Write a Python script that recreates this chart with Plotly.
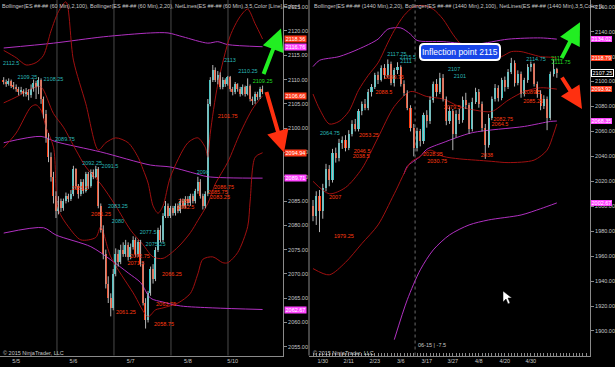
import plotly.graph_objects as go

# ---------------- LEFT PANEL : ES 60 min ----------------
L_OPEN = [2109.75,2109.5,2109.0,2109.75,2108.75,2108.5,2108.0,2107.5,2107.75,2107.0,2107.5,2106.75,2108.0,2109.25,2108.5,
          2110.0,2106.0,2103.0,2098.0,2094.0,2090.0,2086.0,2083.0,2085.0,2083.5,2085.0,2086.0,2085.5,2086.5,2091.5,
          2088.0,2086.5,2089.0,2087.0,2090.5,2088.0,2091.0,2090.0,2091.5,2084.0,2079.0,2074.0,2068.0,2065.0,2063.0,
          2070.0,2074.0,2072.5,2075.0,2074.0,2076.0,2073.5,2075.5,2077.0,2074.0,2076.5,2072.0,2064.0,2060.5,2066.0,
          2071.0,2069.0,2075.0,2079.0,2077.0,2082.0,2084.0,2082.0,2083.5,2082.5,2084.0,2083.0,2085.0,2084.0,2085.5,
          2084.5,2086.0,2085.0,2087.0,2089.0,2086.0,2084.0,2086.5,2105.0,2110.0,2112.0,2110.0,2111.0,2108.5,2110.0,
          2109.0,2110.5,2108.0,2107.5,2109.0,2108.0,2107.0,2108.5,2107.0,2108.75,2106.0,2105.5,2107.0,2106.5,2108.0]
L_HIGH = [2110.5,2110.0,2110.25,2110.0,2109.5,2109.0,2108.5,2108.5,2108.0,2108.25,2108.0,2109.0,2110.0,2109.75,2110.5,
          2110.25,2106.5,2103.75,2099.0,2095.0,2091.0,2087.0,2086.0,2085.5,2085.5,2086.75,2086.5,2087.25,2092.25,2091.75,
          2088.5,2089.5,2089.5,2091.0,2091.0,2091.5,2091.5,2092.25,2092.0,2084.5,2080.0,2075.0,2069.5,2066.0,2071.0,
          2075.25,2075.0,2076.0,2076.5,2077.0,2076.5,2076.25,2077.75,2077.5,2077.0,2077.0,2072.5,2065.0,2066.5,2071.5,
          2072.0,2075.5,2079.5,2080.0,2082.5,2085.0,2084.5,2084.0,2084.0,2084.5,2084.5,2085.5,2085.5,2086.0,2086.0,
          2086.5,2086.5,2087.5,2090.0,2089.5,2086.5,2087.0,2106.0,2110.5,2113.0,2112.5,2111.75,2111.5,2110.5,2110.25,
          2110.75,2110.75,2108.5,2109.5,2109.25,2108.5,2109.0,2108.75,2110.25,2109.0,2106.5,2107.5,2107.5,2108.5,2108.75]
L_LOW = [2109.0,2108.5,2108.75,2108.25,2108.0,2107.5,2106.75,2107.0,2106.5,2106.5,2105.75,2106.25,2107.5,2106.0,2107.0,
         2105.0,2102.0,2097.0,2093.0,2089.0,2084.5,2081.5,2082.25,2082.75,2083.0,2084.5,2084.75,2085.0,2086.0,2087.5,
         2085.5,2086.0,2086.5,2086.75,2087.5,2087.75,2089.5,2089.75,2083.5,2078.5,2073.0,2067.0,2064.0,2061.25,2062.5,
         2069.5,2071.5,2072.0,2073.5,2073.5,2072.75,2073.0,2075.0,2073.5,2073.5,2071.5,2063.5,2058.75,2060.0,2065.5,
         2068.0,2068.5,2074.5,2076.5,2076.5,2081.5,2081.5,2081.5,2082.0,2082.0,2082.5,2082.5,2083.5,2083.5,2084.0,
         2084.0,2084.5,2084.5,2086.5,2085.5,2083.25,2083.5,2086.0,2104.5,2109.5,2109.5,2109.0,2108.0,2108.0,2108.5,
         2108.75,2107.5,2106.75,2107.0,2107.5,2106.5,2106.75,2106.5,2106.75,2105.5,2104.75,2105.0,2105.75,2106.0,2107.0]
L_CLOSE = [2109.5,2109.0,2109.75,2108.75,2108.5,2108.0,2107.5,2107.75,2107.0,2107.5,2106.75,2108.0,2109.25,2108.5,2110.0,
           2106.0,2103.0,2098.0,2094.0,2090.0,2086.0,2083.0,2085.0,2083.5,2085.0,2086.0,2085.5,2086.5,2091.5,2088.0,
           2086.5,2089.0,2087.0,2090.5,2088.0,2091.0,2090.0,2091.5,2084.0,2079.0,2074.0,2068.0,2065.0,2063.0,2070.0,
           2074.0,2072.5,2075.0,2074.0,2076.0,2073.5,2075.5,2077.0,2074.0,2076.5,2072.0,2064.0,2060.5,2066.0,2071.0,
           2069.0,2075.0,2079.0,2077.0,2082.0,2084.0,2082.0,2083.5,2082.5,2084.0,2083.0,2085.0,2084.0,2085.5,2084.5,
           2086.0,2085.0,2087.0,2089.0,2086.0,2084.0,2086.5,2105.0,2110.0,2112.0,2110.0,2111.0,2108.5,2110.0,2109.0,
           2110.5,2108.0,2107.5,2109.0,2108.0,2107.0,2108.5,2107.0,2108.75,2106.0,2105.5,2107.0,2106.5,2108.0,2107.5]

# Bollinger(20) bands (bar index, price)
L_BB20_UP_X = [0, 5, 9, 13, 16, 19, 22, 25, 28, 33, 38, 41, 45, 50, 54, 56, 58, 60, 62, 64, 67, 74, 78, 81, 82, 83, 86, 91, 95, 98, 101, 104]
L_BB20_UP_Y = [2116, 2114.5, 2113, 2113.5, 2115, 2120, 2124, 2126, 2114, 2105, 2095.5, 2097, 2098, 2097, 2094, 2091.5, 2088.7,
               2084, 2082.5, 2084, 2090, 2097, 2098, 2096, 2094, 2099, 2109, 2119, 2123, 2124.5, 2121.5, 2118.36]
L_BB20_MID_X = [0, 5, 12, 15, 20, 24, 29, 33, 39, 45, 51, 56, 60, 64, 70, 75, 78, 82, 85, 90, 95, 100, 104]
L_BB20_MID_Y = [2105.2, 2106.4, 2108.3, 2108.5, 2103, 2100.2, 2095.5, 2092, 2088.5, 2084, 2079, 2076, 2073.5, 2073.2, 2075.5,
                2078.5, 2081, 2084.5, 2088.5, 2093, 2099, 2104, 2106.66]
L_BB20_LO_X = [0, 5, 11, 13, 15, 17, 20, 22, 26, 31, 37, 39, 43, 52, 58, 61, 64, 70, 75, 78, 80, 84, 88, 90, 94, 98, 99, 101, 104]
L_BB20_LO_Y = [2096, 2099, 2104.4, 2104.8, 2103.7, 2100.2, 2096.1, 2083.2, 2079.7, 2077, 2077.5, 2079.7, 2073.5, 2066.1, 2061.2,
               2062.6, 2063, 2064, 2066, 2070, 2073, 2073.5, 2072.3, 2072.3, 2074.4, 2079.7, 2085, 2094, 2094.94]
# Bollinger(100) bands
L_BB100_UP_X = [0, 20, 40, 59, 66, 72, 82, 86, 90, 104]
L_BB100_UP_Y = [2116.5, 2117.5, 2118.8, 2119.6, 2119.6, 2118.8, 2117.5, 2117.8, 2117.2, 2116.76]
L_BB100_MID_X = [0, 15, 21, 39, 59, 67, 76, 82, 104]
L_BB100_MID_Y = [2097, 2098.3, 2097.2, 2095.1, 2092.4, 2092, 2090.8, 2090, 2089.71]
L_BB100_LO_X = [0, 16, 21, 35, 43, 50, 55, 59, 64, 71, 84, 104]
L_BB100_LO_Y = [2078.4, 2079.5, 2078, 2075.6, 2072.9, 2070.2, 2068.2, 2065, 2064.2, 2063.4, 2063, 2062.67]

L_XTICK_POS = [5, 28, 51, 74, 92]
L_XTICK_TEXT = ["5/5", "5/6", "5/7", "5/8", "5/10"]
L_SESSION_BREAKS = [21.4, 44.3, 67.2, 90.1]

L_HI_LABELS = ["2112.5", "2109.25", "2108.25", "2089.75", "2092.25", "2091.5", "2083.25", "2080", "2077.5", "2075.25",
               "2090", "2113", "2110.25"]
L_HI_LABEL_X = [3, 9.5, 20, 24.6, 35.5, 42.7, 45.9, 45.9, 58, 61, 80, 90.9, 98.1]
L_HI_LABEL_Y = [2113.2, 2110.5, 2109.9, 2097.6, 2092.8, 2092, 2083.8, 2080.7, 2078.4, 2076, 2090.8, 2114, 2111.6]
L_LO_LABELS = ["2085.5", "2081.25", "2061.25", "2072.75", "2071.5", "2063.75", "2058.75", "2066.25", "2084", "2082.5",
               "2086.75", "2085.75", "2083.25", "2101.75"]
L_LO_LABEL_X = [30.6, 39.1, 49.1, 54.7, 53.1, 65.2, 64.4, 67.6, 72.5, 73.2, 88.5, 86, 86.9, 90]
L_LO_LABEL_Y = [2087.5, 2082.1, 2062, 2073.5, 2072.2, 2063.6, 2059.5, 2069.8, 2084.8, 2083.6, 2087.7, 2086.7, 2085.6, 2102.3]

L_AXIS_TAGS = [("2118.36", 2118.36, "#ff3a1a"), ("2116.76", 2116.76, "#ff44ff"), ("2106.66", 2106.66, "#ff3a1a"),
               ("2094.94", 2094.94, "#ff3a1a"), ("2089.71", 2089.71, "#ff44ff"), ("2062.67", 2062.67, "#ff44ff")]

# ---------------- RIGHT PANEL : ES daily ----------------
R_OPEN = [2000,1992,2008,1996,2015,2030,2021,2043,2039,2051,2053,2047,2058,2066,2062,2076,2082,2079,2092,2096,
          2105,2101,2111,2105,2114,2099,2109,2112,2098,2091,2079,2063,2047,2060,2052,2073,2068,2085,2098,2092,
          2103,2086,2068,2076,2058,2074,2069,2085,2081,2062,2084,2092,2082,2063,2049,2071,2086,2095,2087,2101,
          2096,2108,2115,2099,2106,2090,2101,2112,2114,2098,2090,2080,2086,2071,2106,2110]
R_HIGH = [2005,2012,2013,2018,2034,2033,2046,2047,2054,2056,2057,2061,2069,2070,2078,2084,2086,2094,2098,2107,
          2108,2113,2114,2117.75,2116,2111,2115.5,2113,2101,2093,2081,2066,2063,2062,2075,2077,2088,2100,2102,2107,
          2106,2088,2080,2078,2077,2078,2088,2091,2083,2087,2095,2094,2084,2066,2074,2088,2098,2097,2103,2104,
          2110,2119,2117,2109,2108,2103,2114,2116,2115,2100,2093,2089,2088,2108,2117.75,2111]
R_LOW = [1988,1985,1979.25,1990,2012,2016,2019,2035,2036,2046,2044,2045,2056,2060,2060,2073,2077,2077,2088,2094,
         2098,2100,2102,2103,2097,2096,2106,2096,2088.5,2077,2060,2040,2044,2048,2050,2063,2066,2083,2088,2090,
         2084,2065,2066,2045,2055,2066,2067,2078,2058,2060,2082,2079,2060,2038,2047,2069,2084,2084,2085,2092,
         2094,2106,2096,2097,2087,2088,2099,2108,2096,2087,2077,2078,2061,2069,2104,2103]
R_CLOSE = [1992,2008,1996,2015,2030,2021,2043,2039,2051,2053,2047,2058,2066,2062,2076,2082,2079,2092,2096,2105,
           2101,2111,2105,2114,2099,2109,2112,2098,2091,2079,2063,2047,2060,2052,2073,2068,2085,2098,2092,2103,
           2086,2068,2076,2058,2074,2069,2085,2081,2062,2084,2092,2082,2063,2049,2071,2086,2095,2087,2101,2096,
           2108,2115,2099,2106,2090,2101,2112,2114,2098,2090,2080,2086,2071,2106,2110,2107.25]

R_BB20_UP_X = [0, 2, 5, 8, 11, 14, 17, 20, 23, 25, 28, 31, 34, 37, 40, 43, 46, 49, 52, 55, 58, 61, 64, 67, 70, 73, 75]
R_BB20_UP_Y = [2090, 2078, 2066, 2068, 2076, 2093, 2105, 2115, 2131, 2141, 2153, 2160, 2161, 2158, 2150, 2138, 2128, 2120,
               2117, 2118, 2120, 2124, 2124, 2122, 2120, 2119.5, 2118.79]
R_BB20_MID_X = [0, 5, 10, 15, 20, 25, 30, 35, 40, 45, 50, 55, 60, 65, 70, 75]
R_BB20_MID_Y = [2020, 2010, 2015, 2030, 2055, 2080, 2092, 2088, 2086, 2080, 2077, 2076, 2085, 2092, 2095, 2093.92]
R_BB20_LO_X = [0, 5, 10, 15, 20, 25, 30, 33, 36, 40, 45, 50, 55, 60, 68, 72, 74, 75]
R_BB20_LO_Y = [1950, 1945, 1955, 1970, 1985, 2010, 2035, 2040, 2045, 2040, 2038, 2037, 2036, 2035, 2037, 2045, 2058, 2066]
R_BB100_UP_X = [0, 2, 8, 14, 20, 23, 27, 30, 32, 40, 50, 60, 70, 75]
R_BB100_UP_Y = [2112, 2117, 2120, 2126, 2134, 2142, 2143, 2138, 2133, 2132, 2130, 2134, 2135, 2134.02]
R_BB100_MID_X = [28, 29, 33, 35, 40, 49, 65, 73, 75]
R_BB100_MID_Y = [2026, 2032, 2040, 2045.6, 2051, 2059, 2064, 2068, 2068.35]
R_BB100_LO_X = [25, 29, 33, 37, 42, 48, 54, 64, 70, 75]
R_BB100_LO_Y = [1893, 1925, 1949, 1965, 1977, 1985, 1989, 1993, 1998, 2002.67]

R_XTICK_POS = [3, 11, 19, 27, 35, 43, 51, 59, 67]
R_XTICK_TEXT = ["1/30", "2/11", "2/23", "3/6", "3/17", "3/27", "4/8", "4/20", "4/30"]
R_MARKER_BAR = 31.4

R_HI_LABELS = ["2117.75", "2115.5", "2111", "2064.75", "2107", "2101", "2114.75"]
R_HI_LABEL_X = [25.8, 29.2, 28.6, 5.2, 43.4, 45.2, 68.6]
R_HI_LABEL_Y = [2121.4, 2119, 2115.8, 2058.2, 2109.4, 2103.8, 2117.4]
R_LO_LABELS = ["2099.75", "2088.5", "2053.25", "2046.5", "2038.5", "2028.25", "2030.75", "2079.5", "2038", "2082.75",
               "2064.5", "2089.5", "2085.25", "2007", "1979.25"]
R_LO_LABEL_X = [24.9, 21.8, 17.2, 15.1, 14.8, 36.9, 38.2, 42.8, 53.5, 58.5, 57.5, 67.4, 67.7, 6.8, 9.5]
R_LO_LABEL_Y = [2103, 2090.9, 2056.6, 2043.8, 2039.8, 2041.4, 2035.6, 2079, 2040.6, 2069.4, 2065.4, 2091, 2083.7, 2007, 1976]
R_GREEN_LABELS = ["2115", "2111.75"]
R_GREEN_X = [75, 76.3]
R_GREEN_Y = [2118.2, 2115]

R_AXIS_TAGS = [("2134.02", 2134.02, "#ff44ff"), ("2118.79", 2118.79, "#ff3a1a"), ("2107.25", 2107.25, "#000000"),
               ("2093.92", 2093.92, "#ff3a1a"), ("2068.35", 2068.35, "#ff44ff"), ("2002.67", 2002.67, "#ff44ff")]

# ---------------- styling ----------------
UP = "#35c8c8"
DN = "#ff3a10"
WICK = "#b4b4b4"
BAND = "#a01010"
MAG = "#b030c0"
GRID = "#4a4a4a"
TXT = "#c8c8c8"
FONT = "Liberation Sans, Arial, sans-serif"

fig = go.Figure()


def add_candles(o, h, l, c, xa, ya, width):
    idx = list(range(len(c)))
    wx, wy = [], []
    for i in idx:
        wx += [i, i, None]
        wy += [l[i], h[i], None]
    fig.add_trace(go.Scatter(x=wx, y=wy, mode="lines", line=dict(color=WICK, width=1),
                             xaxis=xa, yaxis=ya, hoverinfo="skip", showlegend=False))
    base = [min(o[i], c[i]) for i in idx]
    height = [max(abs(c[i] - o[i]), 0.15) for i in idx]
    cols = [UP if c[i] >= o[i] else DN for i in idx]
    fig.add_trace(go.Bar(x=idx, y=height, base=base, width=width, marker=dict(color=cols, line=dict(width=0)),
                         xaxis=xa, yaxis=ya, hoverinfo="skip", showlegend=False))


def add_line(xs, ys, color, xa, ya, w=1):
    fig.add_trace(go.Scatter(x=xs, y=ys, mode="lines", line=dict(color=color, width=w, shape="spline", smoothing=0.8),
                             xaxis=xa, yaxis=ya, hoverinfo="skip", showlegend=False))


def add_labels(texts, xs, ys, color, xa, ya):
    fig.add_trace(go.Scatter(x=xs, y=ys, mode="text", text=texts, textposition="middle center",
                             textfont=dict(color=color, size=5.5, family=FONT),
                             xaxis=xa, yaxis=ya, hoverinfo="skip", showlegend=False))


# left panel traces
add_line(L_BB100_UP_X, L_BB100_UP_Y, MAG, "x", "y")
add_line(L_BB100_MID_X, L_BB100_MID_Y, MAG, "x", "y")
add_line(L_BB100_LO_X, L_BB100_LO_Y, MAG, "x", "y")
add_line(L_BB20_UP_X, L_BB20_UP_Y, BAND, "x", "y")
add_line(L_BB20_MID_X, L_BB20_MID_Y, BAND, "x", "y")
add_line(L_BB20_LO_X, L_BB20_LO_Y, BAND, "x", "y")
add_candles(L_OPEN, L_HIGH, L_LOW, L_CLOSE, "x", "y", 0.6)
add_labels(L_HI_LABELS, L_HI_LABEL_X, L_HI_LABEL_Y, "#2ab8b8", "x", "y")
add_labels(L_LO_LABELS, L_LO_LABEL_X, L_LO_LABEL_Y, "#ff3a10", "x", "y")
add_labels(["2109.25"], [104], [2109.6], "#22dd22", "x", "y")

# right panel traces
add_line(R_BB100_UP_X, R_BB100_UP_Y, MAG, "x2", "y2")
add_line(R_BB100_MID_X, R_BB100_MID_Y, MAG, "x2", "y2")
add_line(R_BB100_LO_X, R_BB100_LO_Y, MAG, "x2", "y2")
add_line(R_BB20_UP_X, R_BB20_UP_Y, BAND, "x2", "y2")
add_line(R_BB20_MID_X, R_BB20_MID_Y, BAND, "x2", "y2")
add_line(R_BB20_LO_X, R_BB20_LO_Y, BAND, "x2", "y2")
add_candles(R_OPEN, R_HIGH, R_LOW, R_CLOSE, "x2", "y2", 0.65)
add_labels(R_HI_LABELS, R_HI_LABEL_X, R_HI_LABEL_Y, "#2ab8b8", "x2", "y2")
add_labels(R_LO_LABELS, R_LO_LABEL_X, R_LO_LABEL_Y, "#ff3a10", "x2", "y2")
add_labels(R_GREEN_LABELS, R_GREEN_X, R_GREEN_Y, "#22dd22", "x2", "y2")

W, H = 615, 367
LX0, LX1 = 0.0, 283 / W
RX0, RX1 = 309 / W, 590 / W
YB = 1 - 355.5 / H

axis_common = dict(showgrid=False, zeroline=False, showline=True, linecolor="#8a8a8a", linewidth=1,
                   tickfont=dict(color=TXT, size=5.5, family=FONT))

fig.update_layout(
    width=W, height=H, margin=dict(l=0, r=0, t=0, b=0),
    paper_bgcolor="#000000", plot_bgcolor="#000000", barmode="overlay", bargap=0,
    showlegend=False,
    xaxis=dict(domain=[LX0, LX1], range=[-1.49, 112.2], anchor="y", tickvals=L_XTICK_POS, ticktext=L_XTICK_TEXT,
               ticks="", **axis_common),
    yaxis=dict(domain=[YB, 1], range=[2053.2, 2126.38], anchor="x", side="right", dtick=5, tickformat=".2f",
               ticks="outside", ticklen=3, tickcolor="#8a8a8a", **axis_common),
    xaxis2=dict(domain=[RX0, RX1], range=[-1.23, 85.2], anchor="y2", tickvals=R_XTICK_POS, ticktext=R_XTICK_TEXT,
                ticks="inside", ticklen=3, tickcolor="#8a8a8a",
                minor=dict(dtick=1, ticks="inside", ticklen=3, tickcolor="#8a8a8a"), mirror=False, **axis_common),
    yaxis2=dict(domain=[YB, 1], range=[1880.3, 2165.4], anchor="x2", side="right", dtick=20, tickformat=".2f",
                ticks="outside", ticklen=3, tickcolor="#8a8a8a", **axis_common),
)

shapes = []
for b in L_SESSION_BREAKS:
    shapes.append(dict(type="line", xref="x", yref="paper", x0=b, x1=b, y0=YB, y1=1,
                       line=dict(color=GRID, width=1), layer="below"))
shapes.append(dict(type="line", xref="x2", yref="paper", x0=R_MARKER_BAR, x1=R_MARKER_BAR, y0=YB, y1=1,
                   line=dict(color="#6a6a6a", width=1, dash="dot"), layer="below"))
# right panel left border
shapes.append(dict(type="line", xref="paper", yref="paper", x0=RX0, x1=RX0, y0=YB, y1=1,
                   line=dict(color="#8a8a8a", width=1)))
# rounded annotation box
bx0, bx1, by0, by1, r = 420 / W, 500 / W, 1 - 60 / H, 1 - 44 / H, 4
rx, ry = r / W, r / H
path = (f"M{bx0+rx},{by0} L{bx1-rx},{by0} Q{bx1},{by0} {bx1},{by0+ry} L{bx1},{by1-ry} Q{bx1},{by1} {bx1-rx},{by1} "
        f"L{bx0+rx},{by1} Q{bx0},{by1} {bx0},{by1-ry} L{bx0},{by0+ry} Q{bx0},{by0} {bx0+rx},{by0} Z")
shapes.append(dict(type="path", xref="paper", yref="paper", path=path, fillcolor="#1846e8",
                   line=dict(color="#ffffff", width=2)))
# mouse cursor
cx, cy = 503, 291
cur = [(0, 0), (0, 11), (3, 8), (5, 13), (7, 12), (5, 7), (9, 7)]
cp = "M" + " L".join(f"{(cx+a)/W},{1-(cy+b)/H}" for a, b in cur) + " Z"
shapes.append(dict(type="path", xref="paper", yref="paper", path=cp, fillcolor="#ffffff",
                   line=dict(color="#000000", width=0.5)))
fig.update_layout(shapes=shapes)

ann = []
ann.append(dict(xref="paper", yref="paper", x=0.0, y=1 - 1 / H, xanchor="left", yanchor="top", showarrow=False,
                text="Bollinger(ES ##-## (60 Min),2,100), Bollinger(ES ##-## (60 Min),2,20), NetLines(ES ##-## (60 Min),3,5,Color [Line],Color ]",
                font=dict(color=TXT, size=5.5, family=FONT)))
ann.append(dict(xref="paper", yref="paper", x=312 / W, y=1 - 1 / H, xanchor="left", yanchor="top", showarrow=False,
                text="Bollinger(ES ##-## (1440 Min),2,20), Bollinger(ES ##-## (1440 Min),2,100), NetLines(ES ##-## (1440 Min),3,5,Color [L",
                font=dict(color=TXT, size=5.5, family=FONT)))
ann.append(dict(xref="paper", yref="paper", x=1 / W, y=1 - 353 / H, xanchor="left", yanchor="middle", showarrow=False,
                text="© 2015 NinjaTrader, LLC", font=dict(color=TXT, size=5.5, family=FONT)))
ann.append(dict(xref="paper", yref="paper", x=311 / W, y=1 - 353 / H, xanchor="left", yanchor="middle", showarrow=False,
                text="© 2015 NinjaTrader, LLC", font=dict(color=TXT, size=5.5, family=FONT)))
ann.append(dict(xref="paper", yref="paper", x=416 / W, y=1 - 345 / H, xanchor="left", yanchor="middle", showarrow=False,
                text="06-15 | -7.5", font=dict(color=TXT, size=5.5, family=FONT)))
ann.append(dict(xref="paper", yref="paper", x=460 / W, y=1 - 52 / H, xanchor="center", yanchor="middle",
                showarrow=False, text="Inflection point 2115", font=dict(color="#ffffff", size=8.5, family=FONT)))

for txt, val, col in L_AXIS_TAGS:
    ann.append(dict(xref="paper", yref="y", x=284 / W, y=val, xanchor="left", yanchor="middle", showarrow=False,
                    text=txt, bgcolor=col, borderpad=0, font=dict(color="#ffffff", size=5.5, family=FONT),
                    width=21, height=6))
for txt, val, col in R_AXIS_TAGS:
    ann.append(dict(xref="paper", yref="y2", x=591 / W, y=val, xanchor="left", yanchor="middle", showarrow=False,
                    text=txt, bgcolor=col, borderpad=0, bordercolor="#ffffff" if col == "#000000" else col,
                    borderwidth=1 if col == "#000000" else 0,
                    font=dict(color="#ffffff", size=5.5, family=FONT), width=21, height=6))

# thick directional arrows
def arrow(x_tip_px, y_tip_val, yref, dx, dy, color):
    ann.append(dict(xref="paper", yref=yref, x=x_tip_px / W, y=y_tip_val, ax=dx, ay=dy, axref="pixel", ayref="pixel",
                    showarrow=True, arrowhead=2, arrowsize=1.1, arrowwidth=4, arrowcolor=color, text=""))

arrow(281, 2120.5, "y", -18, 47, "#22ee22")
arrow(284, 2095.0, "y", -18, -62, "#ff3010")
arrow(580, 2147.5, "y2", -19, 37, "#22ee22")
arrow(582, 2078, "y2", -21, -33, "#ff3010")

fig.update_layout(annotations=ann)
fig.write_html("out.html", config={"displayModeBar": False},
               post_script="document.body.style.margin='0px';document.body.style.overflow='hidden';")
